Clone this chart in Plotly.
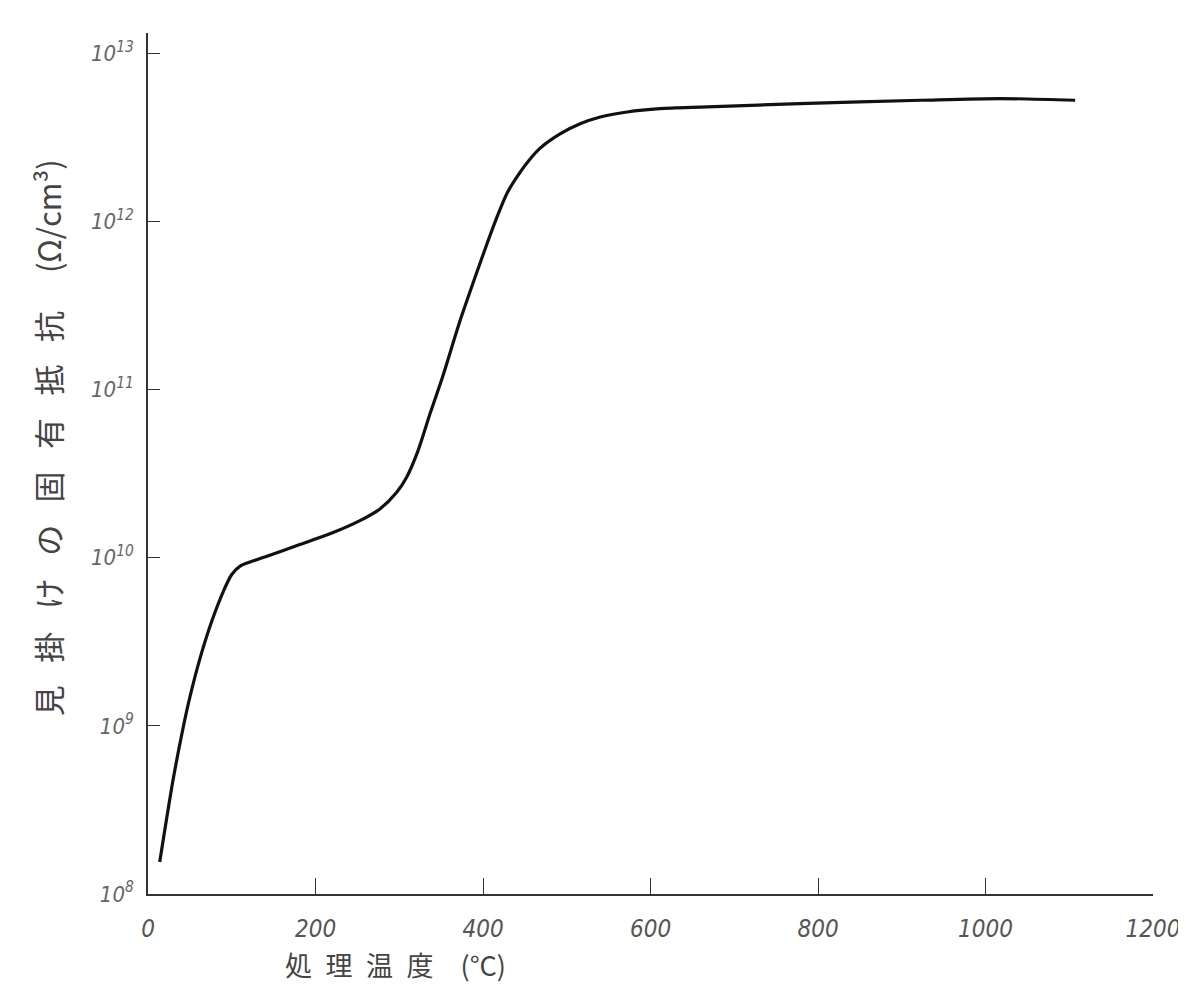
import plotly.graph_objects as go

# Data
temperature_c = [14, 30, 42, 50, 62, 76, 90, 100, 110, 142, 182, 221, 253, 277, 297,
                 309, 322, 337, 352, 372, 390, 405, 417, 429, 444, 456, 467, 492,
                 516, 540, 572, 611, 668, 778, 923, 1017, 1107]
resistivity = [1.55e8, 4.79e8, 9.77e8, 1.48e9, 2.51e9, 4.17e9, 6.31e9, 7.94e9, 8.91e9,
               1.02e10, 1.20e10, 1.41e10, 1.66e10, 1.95e10, 2.45e10, 3.02e10, 4.27e10,
               7.24e10, 1.20e11, 2.51e11, 4.57e11, 7.41e11, 1.07e12, 1.48e12, 1.95e12,
               2.34e12, 2.69e12, 3.31e12, 3.80e12, 4.17e12, 4.47e12, 4.68e12, 4.79e12,
               5.01e12, 5.25e12, 5.37e12, 5.25e12]

x_ticks = [0, 200, 400, 600, 800, 1000, 1200]
x_ticklabels = ["0", "200", "400", "600", "800", "1000", "1200"]
y_ticks = [1e8, 1e9, 1e10, 1e11, 1e12, 1e13]
y_ticklabels = ["10<sup>8</sup>", "10<sup>9</sup>", "10<sup>10</sup>",
                "10<sup>11</sup>", "10<sup>12</sup>", "10<sup>13</sup>"]

sp = "\u2002 "
y_title = sp.join(list("見掛けの固有抵抗")) + "\u2003 (Ω/cm³)"
x_title = "\u2002".join(list("処理温度")) + "\u2003(°C)"

x_tick_font = dict(family="DejaVu Sans Condensed", size=24, color="#555", style="italic")
y_tick_font = dict(family="DejaVu Sans Condensed", size=22, color="#666", style="italic")
y_title_font = dict(family="Noto Sans CJK JP", size=31, color="#444")
x_title_font = dict(family="Noto Sans CJK JP", size=27, color="#444")

fig = go.Figure()
fig.add_trace(go.Scatter(
    x=temperature_c, y=resistivity, mode="lines",
    line=dict(color="#111", width=3.2, shape="spline", smoothing=0.8),
    showlegend=False, hoverinfo="skip"))

# page body has an 8px margin; sizes compensate so the plot area sits where the reference's does
fig.update_layout(
    width=1178, height=983,
    margin=dict(l=140, r=33, t=25, b=97),
    paper_bgcolor="white", plot_bgcolor="white",
    xaxis=dict(range=[0, 1200], tickvals=x_ticks, ticktext=x_ticklabels,
               ticks="inside", ticklen=16, tickwidth=1.3, tickcolor="#333",
               showline=True, linecolor="#333", linewidth=2, showgrid=False,
               zeroline=False, tickfont=x_tick_font, ticklabelstandoff=12,
               automargin=False),
    yaxis=dict(type="log", range=[8, 13.12], tickvals=y_ticks, ticktext=y_ticklabels,
               ticks="inside", ticklen=12, tickwidth=1.3, tickcolor="#333",
               showline=True, linecolor="#333", linewidth=1.6, showgrid=False,
               zeroline=False, tickfont=y_tick_font, ticklabelstandoff=8,
               automargin=False),
    annotations=[
        dict(text=y_title, xref="paper", yref="paper", x=-0.1, y=0.53,
             textangle=-90, showarrow=False, font=y_title_font,
             xanchor="center", yanchor="middle"),
        dict(text=x_title, xref="paper", yref="paper", x=0.246, y=-0.082,
             showarrow=False, font=x_title_font, xanchor="center", yanchor="middle"),
    ],
)

fig.write_html("out.html")
